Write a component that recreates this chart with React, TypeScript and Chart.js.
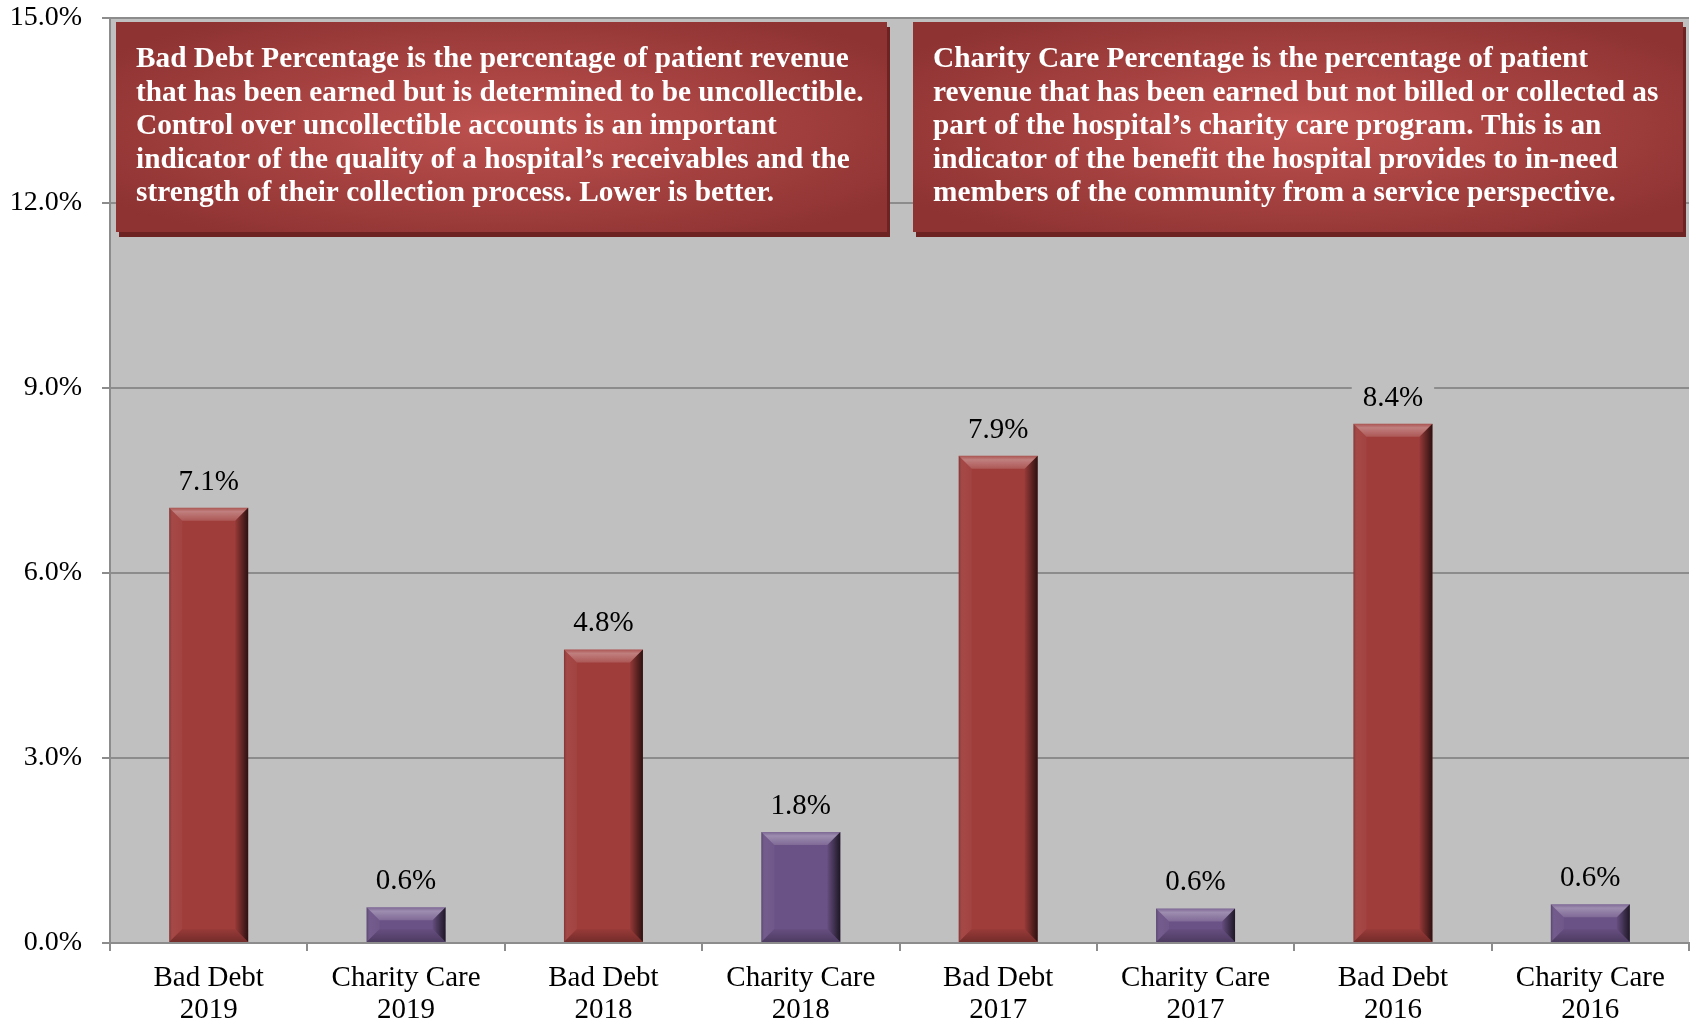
import React, { useEffect, useRef } from "react";
import { Chart, registerables } from "chart.js";

Chart.register(...registerables);

// Categories (two-line tick labels) and the percentage for each bar
const categories: string[][] = [
  ["Bad Debt", "2019"],
  ["Charity Care", "2019"],
  ["Bad Debt", "2018"],
  ["Charity Care", "2018"],
  ["Bad Debt", "2017"],
  ["Charity Care", "2017"],
  ["Bad Debt", "2016"],
  ["Charity Care", "2016"],
];
const percentages: number[] = [7.06, 0.58, 4.76, 1.8, 7.9, 0.56, 8.42, 0.63];
const barKinds: string[] = ["bad", "charity", "bad", "charity", "bad", "charity", "bad", "charity"];

const yMin = 0;
const yMax = 15;
const yStep = 3;

const badDebtNote: string[] = [
  "Bad Debt Percentage is the percentage of patient revenue",
  "that has been earned but is determined to be uncollectible.",
  "Control over uncollectible accounts is an important",
  "indicator of the quality of a hospital\u2019s receivables and the",
  "strength of their collection process. Lower is better.",
];
const charityNote: string[] = [
  "Charity Care Percentage is the percentage of patient",
  "revenue that has been earned but not billed or collected as",
  "part of the hospital\u2019s charity care program. This is an",
  "indicator of the benefit the hospital provides to in-need",
  "members of the community from a service perspective.",
];

const kindColors: Record<string, string> = { bad: "#9f3d3b", charity: "#6b5286" };
const SERIF = "'Liberation Serif', 'Times New Roman', serif";
const PLOT_BG = "#c0c0c0";
const GRID = "#8c8c8c";

const plotBackground = {
  id: "plotBackground",
  beforeDraw(chart: any) {
    const { ctx, chartArea } = chart;
    ctx.save();
    ctx.fillStyle = PLOT_BG;
    ctx.fillRect(chartArea.left, chartArea.top, chartArea.right - chartArea.left, chartArea.bottom - chartArea.top);
    ctx.restore();
  },
};

function poly(ctx: CanvasRenderingContext2D, pts: number[][], fill: string | CanvasGradient) {
  ctx.beginPath();
  ctx.moveTo(pts[0][0], pts[0][1]);
  for (let i = 1; i < pts.length; i++) ctx.lineTo(pts[i][0], pts[i][1]);
  ctx.closePath();
  ctx.fillStyle = fill;
  ctx.fill();
}

// Bevelled facets on each bar
const bevel = {
  id: "bevel",
  afterDatasetsDraw(chart: any) {
    const ctx: CanvasRenderingContext2D = chart.ctx;
    chart.getDatasetMeta(0).data.forEach((el: any) => {
      const { x, y, base, width } = el.getProps(["x", "y", "base", "width"], true);
      const l = x - width / 2;
      const r = x + width / 2;
      const t = Math.min(y, base);
      const b = Math.max(y, base);
      const d = Math.min(13, (b - t) / 2);
      ctx.save();
      const gTop = ctx.createLinearGradient(0, t, 0, t + d);
      gTop.addColorStop(0, "rgba(255,255,255,0.12)");
      gTop.addColorStop(0.3, "rgba(255,255,255,0.34)");
      gTop.addColorStop(1, "rgba(255,255,255,0.14)");
      poly(ctx, [[l, t], [r, t], [r - d, t + d], [l + d, t + d]], gTop);
      const gRight = ctx.createLinearGradient(r - d, 0, r, 0);
      gRight.addColorStop(0, "rgba(0,0,0,0.05)");
      gRight.addColorStop(1, "rgba(0,0,0,0.72)");
      poly(ctx, [[r, t], [r, b], [r - d, b - d], [r - d, t + d]], gRight);
      const gLeft = ctx.createLinearGradient(l, 0, l + d, 0);
      gLeft.addColorStop(0, "rgba(0,0,0,0.18)");
      gLeft.addColorStop(0.3, "rgba(255,255,255,0.06)");
      gLeft.addColorStop(1, "rgba(255,255,255,0.03)");
      poly(ctx, [[l, t], [l + d, t + d], [l + d, b - d], [l, b]], gLeft);
      const gBot = ctx.createLinearGradient(0, b - d, 0, b);
      gBot.addColorStop(0, "rgba(0,0,0,0.04)");
      gBot.addColorStop(1, "rgba(0,0,0,0.28)");
      poly(ctx, [[l, b], [l + d, b - d], [r - d, b - d], [r, b]], gBot);
      ctx.restore();
    });
  },
};

// Value labels above the bars, on a plot-coloured patch
const valueLabels = {
  id: "valueLabels",
  afterDatasetsDraw(chart: any) {
    const ctx: CanvasRenderingContext2D = chart.ctx;
    const ds = chart.data.datasets[0];
    ctx.save();
    ctx.font = `29px ${SERIF}`;
    ctx.textAlign = "center";
    ctx.textBaseline = "alphabetic";
    chart.getDatasetMeta(0).data.forEach((el: any, i: number) => {
      const text = `${Number(ds.data[i]).toFixed(1)}%`;
      const w = ctx.measureText(text).width + 22;
      const baseY = el.y - 18;
      ctx.fillStyle = PLOT_BG;
      ctx.fillRect(el.x - w / 2, baseY - 27, w, 34);
      ctx.fillStyle = "#000000";
      ctx.fillText(text, el.x, baseY);
    });
    ctx.restore();
  },
};

function drawNote(ctx: CanvasRenderingContext2D, x: number, y: number, w: number, h: number, lines: string[]) {
  ctx.save();
  ctx.fillStyle = "#6c2322";
  ctx.fillRect(x + 3, y + 5, w, h);
  ctx.save();
  ctx.beginPath();
  ctx.rect(x, y, w, h);
  ctx.clip();
  ctx.translate(x + w / 2, y + h / 2);
  ctx.scale(1, h / w);
  const g = ctx.createRadialGradient(0, 0, 0, 0, 0, w * 0.62);
  g.addColorStop(0, "#bd514f");
  g.addColorStop(1, "#8e3332");
  ctx.fillStyle = g;
  ctx.fillRect(-w, -w, 2 * w, 2 * w);
  ctx.restore();
  ctx.fillStyle = "#ffffff";
  ctx.font = `bold 29.3px ${SERIF}`;
  ctx.textAlign = "left";
  ctx.textBaseline = "alphabetic";
  lines.forEach((line, i) => ctx.fillText(line, x + 20, y + 45 + i * 33.6));
  ctx.restore();
}

const notes = {
  id: "notes",
  afterDraw(chart: any) {
    const ctx: CanvasRenderingContext2D = chart.ctx;
    drawNote(ctx, 116, 22, 771, 210, badDebtNote);
    drawNote(ctx, 913, 22, 770, 210, charityNote);
  },
};

export default function App() {
  const canvasRef = useRef<HTMLCanvasElement | null>(null);

  useEffect(() => {
    document.body.style.margin = "0";
    const canvas = canvasRef.current;
    if (!canvas) return;
    const chart = new Chart(canvas, {
      type: "bar",
      data: {
        labels: categories,
        datasets: [
          {
            data: percentages,
            backgroundColor: barKinds.map((k) => kindColors[k]),
            borderWidth: 0,
            categoryPercentage: 1,
            barPercentage: 0.4,
          },
        ],
      },
      options: {
        responsive: false,
        animation: false,
        devicePixelRatio: 1,
        layout: { padding: { top: 18, right: 1, left: 0, bottom: 0 } },
        plugins: {
          legend: { display: false },
          tooltip: { enabled: false },
          title: { display: false },
        },
        scales: {
          x: {
            grid: { drawOnChartArea: false, drawTicks: true, tickLength: 8, offset: true, color: GRID, lineWidth: 2 },
            border: { display: true, color: GRID, width: 2 },
            ticks: {
              color: "#000000",
              font: { family: SERIF, size: 29, lineHeight: 1.12 },
              padding: 11,
              maxRotation: 0,
              autoSkip: false,
            },
            afterFit(scale: any) {
              scale.height = 83;
            },
          },
          y: {
            min: yMin,
            max: yMax,
            grid: { color: GRID, lineWidth: 2, tickLength: 8, drawTicks: true },
            border: { display: true, color: GRID, width: 2 },
            ticks: {
              stepSize: yStep,
              color: "#000000",
              padding: 20,
              font: { family: SERIF, size: 28, lineHeight: 0.5 },
              callback: (v: any) => `${Number(v).toFixed(1)}%`,
            },
            afterFit(scale: any) {
              scale.width = 110;
              scale.paddingTop = 0;
              scale.paddingBottom = 0;
            },
          },
        },
      },
      plugins: [plotBackground, bevel, valueLabels, notes],
    });
    return () => chart.destroy();
  }, []);

  return (
    <div style={{ width: 1690, height: 1026, background: "#ffffff" }}>
      <canvas ref={canvasRef} width={1690} height={1026} style={{ width: 1690, height: 1026, display: "block" }} />
    </div>
  );
}
